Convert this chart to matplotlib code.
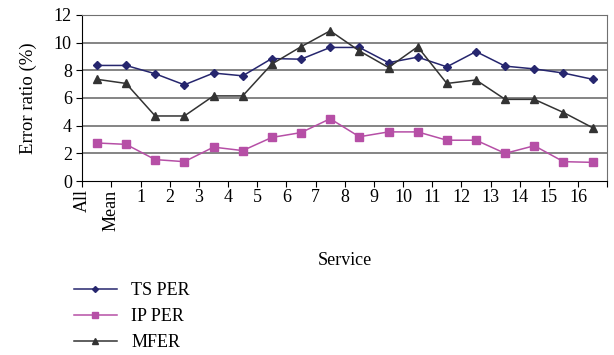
import matplotlib.pyplot as plt
import numpy as np

plt.rcParams["font.family"] = ["Liberation Serif", "DejaVu Serif"]

services = ["All", "Mean"] + [str(i) for i in range(1, 17)]
ts_per = [8.35, 8.35, 7.75, 6.95, 7.8, 7.6, 8.85, 8.8, 9.65, 9.65,
          8.55, 8.95, 8.25, 9.35, 8.3, 8.1, 7.8, 7.35]
ip_per = [2.75, 2.65, 1.55, 1.4, 2.45, 2.2, 3.15, 3.5, 4.5, 3.2,
          3.55, 3.55, 2.95, 2.95, 2.0, 2.55, 1.4, 1.35]
mfer = [7.35, 7.05, 4.7, 4.7, 6.15, 6.15, 8.45, 9.7, 10.85, 9.4,
        8.2, 9.7, 7.05, 7.3, 5.9, 5.9, 4.95, 3.85]


def draw_graph():
    fig = plt.figure(figsize=(6.14, 3.55), dpi=100)
    ax = fig.add_axes([0.134, 0.49, 0.855, 0.468])

    x = np.arange(len(services)) + 0.5
    ax.plot(x, ts_per, color="#26266e", lw=1.1, marker="D", ms=4,
            label="TS PER")
    ax.plot(x, ip_per, color="#b64fa6", lw=1.1, marker="s", ms=6,
            label="IP PER")
    ax.plot(x, mfer, color="#333333", lw=1.1, marker="^", ms=6,
            label="MFER")

    # Grid and frame
    ax.set_xlim(0, len(services))
    ax.set_ylim(0, 12)
    ax.set_yticks(range(0, 13, 2))
    for y in range(2, 13, 2):
        ax.axhline(y, color="#707070", lw=1.2, zorder=0)
    for side in ["top", "right"]:
        ax.spines[side].set_color("#707070")
    ax.spines["left"].set_color("black")
    ax.spines["bottom"].set_color("black")

    ax.set_xticks(range(len(services) + 1))
    ax.set_xticklabels(services + [""])
    for i, lbl in enumerate(ax.get_xticklabels()):
        if i < 2:
            lbl.set_rotation(90)
            lbl.set_va("top")
    ax.tick_params(axis="both", direction="out", length=4, labelsize=13)
    ax.tick_params(axis="x", pad=2)

    ax.set_ylabel("Error ratio (%)", fontsize=13.5, labelpad=12)
    fig.text(0.562, 0.265, "Service", ha="center", va="center",
             fontsize=13)

    fig.legend(loc="upper left", bbox_to_anchor=(0.108, 0.225), frameon=False,
               fontsize=13, handlelength=2.4, labelspacing=0.5,
               borderaxespad=0, handletextpad=0.8, markerscale=0.75)

    fig.savefig("out.png", dpi=100)


if __name__ == "__main__":
    draw_graph()
